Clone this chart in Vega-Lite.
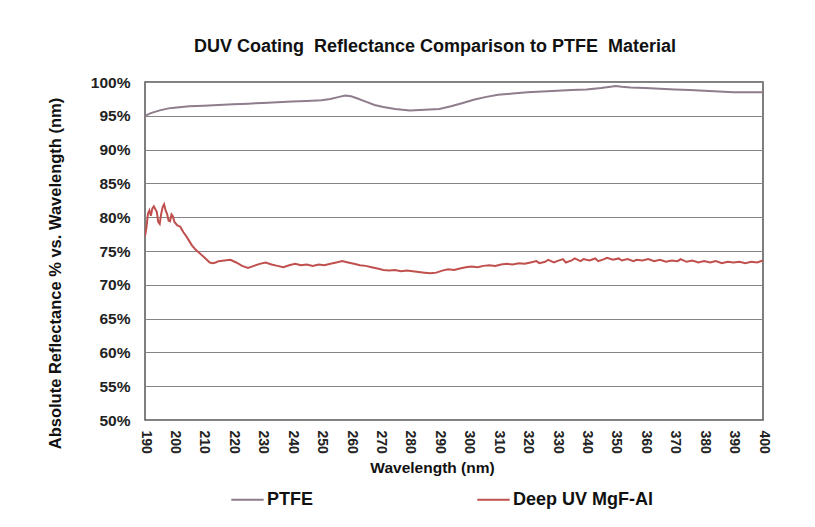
{
  "$schema": "https://vega.github.io/schema/vega-lite/v6.json",
  "width": 618,
  "height": 338,
  "autosize": {"type": "none"},
  "padding": {"left": 145, "top": 82, "right": 52, "bottom": 107},
  "background": "white",
  "title": {
    "text": "DUV Coating\u00a0 Reflectance Comparison to PTFE\u00a0 Material",
    "font": "Liberation Sans",
    "fontSize": 18,
    "fontWeight": "bold",
    "color": "#111111",
    "anchor": "middle",
    "dx": -19,
    "offset": 19
  },
  "data": {
    "values": [
      {"wl": 190, "s": "PTFE", "r": 95.0},
      {"wl": 192, "s": "PTFE", "r": 95.4},
      {"wl": 195, "s": "PTFE", "r": 95.8},
      {"wl": 198, "s": "PTFE", "r": 96.1},
      {"wl": 200, "s": "PTFE", "r": 96.2},
      {"wl": 205, "s": "PTFE", "r": 96.4},
      {"wl": 210, "s": "PTFE", "r": 96.5},
      {"wl": 215, "s": "PTFE", "r": 96.6},
      {"wl": 220, "s": "PTFE", "r": 96.7},
      {"wl": 225, "s": "PTFE", "r": 96.8},
      {"wl": 230, "s": "PTFE", "r": 96.9},
      {"wl": 235, "s": "PTFE", "r": 97.0},
      {"wl": 240, "s": "PTFE", "r": 97.1},
      {"wl": 245, "s": "PTFE", "r": 97.2},
      {"wl": 250, "s": "PTFE", "r": 97.3},
      {"wl": 253, "s": "PTFE", "r": 97.5},
      {"wl": 256, "s": "PTFE", "r": 97.8},
      {"wl": 258, "s": "PTFE", "r": 98.0},
      {"wl": 260, "s": "PTFE", "r": 97.9},
      {"wl": 262, "s": "PTFE", "r": 97.6},
      {"wl": 265, "s": "PTFE", "r": 97.1},
      {"wl": 268, "s": "PTFE", "r": 96.6},
      {"wl": 271, "s": "PTFE", "r": 96.3},
      {"wl": 275, "s": "PTFE", "r": 96.0},
      {"wl": 280, "s": "PTFE", "r": 95.8},
      {"wl": 285, "s": "PTFE", "r": 95.9},
      {"wl": 290, "s": "PTFE", "r": 96.0},
      {"wl": 294, "s": "PTFE", "r": 96.4},
      {"wl": 298, "s": "PTFE", "r": 96.9},
      {"wl": 302, "s": "PTFE", "r": 97.4},
      {"wl": 306, "s": "PTFE", "r": 97.8},
      {"wl": 310, "s": "PTFE", "r": 98.1},
      {"wl": 315, "s": "PTFE", "r": 98.3},
      {"wl": 320, "s": "PTFE", "r": 98.5},
      {"wl": 325, "s": "PTFE", "r": 98.6},
      {"wl": 330, "s": "PTFE", "r": 98.7},
      {"wl": 335, "s": "PTFE", "r": 98.8},
      {"wl": 340, "s": "PTFE", "r": 98.9},
      {"wl": 345, "s": "PTFE", "r": 99.1},
      {"wl": 350, "s": "PTFE", "r": 99.4},
      {"wl": 352, "s": "PTFE", "r": 99.3},
      {"wl": 355, "s": "PTFE", "r": 99.2},
      {"wl": 360, "s": "PTFE", "r": 99.1},
      {"wl": 365, "s": "PTFE", "r": 99.0},
      {"wl": 370, "s": "PTFE", "r": 98.9},
      {"wl": 375, "s": "PTFE", "r": 98.8},
      {"wl": 380, "s": "PTFE", "r": 98.7},
      {"wl": 385, "s": "PTFE", "r": 98.6},
      {"wl": 390, "s": "PTFE", "r": 98.5},
      {"wl": 395, "s": "PTFE", "r": 98.5},
      {"wl": 400, "s": "PTFE", "r": 98.5},
      {"wl": 190, "s": "Deep UV MgF-Al", "r": 77.2},
      {"wl": 190.5, "s": "Deep UV MgF-Al", "r": 78.5},
      {"wl": 191, "s": "Deep UV MgF-Al", "r": 80.5},
      {"wl": 191.5, "s": "Deep UV MgF-Al", "r": 81.0},
      {"wl": 192, "s": "Deep UV MgF-Al", "r": 80.2},
      {"wl": 192.5, "s": "Deep UV MgF-Al", "r": 81.3},
      {"wl": 193, "s": "Deep UV MgF-Al", "r": 81.6},
      {"wl": 194, "s": "Deep UV MgF-Al", "r": 80.8},
      {"wl": 194.5, "s": "Deep UV MgF-Al", "r": 79.3},
      {"wl": 195, "s": "Deep UV MgF-Al", "r": 79.0},
      {"wl": 195.5, "s": "Deep UV MgF-Al", "r": 80.5},
      {"wl": 196, "s": "Deep UV MgF-Al", "r": 81.5},
      {"wl": 196.5, "s": "Deep UV MgF-Al", "r": 81.9},
      {"wl": 197, "s": "Deep UV MgF-Al", "r": 81.0},
      {"wl": 197.5, "s": "Deep UV MgF-Al", "r": 80.5},
      {"wl": 198, "s": "Deep UV MgF-Al", "r": 79.5},
      {"wl": 198.5, "s": "Deep UV MgF-Al", "r": 79.4},
      {"wl": 199, "s": "Deep UV MgF-Al", "r": 80.4},
      {"wl": 199.5, "s": "Deep UV MgF-Al", "r": 80.1},
      {"wl": 200, "s": "Deep UV MgF-Al", "r": 79.3},
      {"wl": 201, "s": "Deep UV MgF-Al", "r": 78.8},
      {"wl": 202, "s": "Deep UV MgF-Al", "r": 78.6},
      {"wl": 203, "s": "Deep UV MgF-Al", "r": 77.8},
      {"wl": 204, "s": "Deep UV MgF-Al", "r": 77.2},
      {"wl": 205, "s": "Deep UV MgF-Al", "r": 76.5},
      {"wl": 206, "s": "Deep UV MgF-Al", "r": 75.8},
      {"wl": 207, "s": "Deep UV MgF-Al", "r": 75.3},
      {"wl": 208, "s": "Deep UV MgF-Al", "r": 74.9},
      {"wl": 209, "s": "Deep UV MgF-Al", "r": 74.5},
      {"wl": 210, "s": "Deep UV MgF-Al", "r": 74.1},
      {"wl": 211, "s": "Deep UV MgF-Al", "r": 73.7},
      {"wl": 212, "s": "Deep UV MgF-Al", "r": 73.3},
      {"wl": 213, "s": "Deep UV MgF-Al", "r": 73.2},
      {"wl": 214, "s": "Deep UV MgF-Al", "r": 73.3},
      {"wl": 215, "s": "Deep UV MgF-Al", "r": 73.5},
      {"wl": 217, "s": "Deep UV MgF-Al", "r": 73.6},
      {"wl": 219, "s": "Deep UV MgF-Al", "r": 73.7},
      {"wl": 221, "s": "Deep UV MgF-Al", "r": 73.3},
      {"wl": 223, "s": "Deep UV MgF-Al", "r": 72.8},
      {"wl": 225, "s": "Deep UV MgF-Al", "r": 72.5},
      {"wl": 227, "s": "Deep UV MgF-Al", "r": 72.8},
      {"wl": 229, "s": "Deep UV MgF-Al", "r": 73.1},
      {"wl": 231, "s": "Deep UV MgF-Al", "r": 73.3},
      {"wl": 233, "s": "Deep UV MgF-Al", "r": 73.0},
      {"wl": 235, "s": "Deep UV MgF-Al", "r": 72.8},
      {"wl": 237, "s": "Deep UV MgF-Al", "r": 72.6},
      {"wl": 239, "s": "Deep UV MgF-Al", "r": 72.9},
      {"wl": 241, "s": "Deep UV MgF-Al", "r": 73.1},
      {"wl": 243, "s": "Deep UV MgF-Al", "r": 72.9},
      {"wl": 245, "s": "Deep UV MgF-Al", "r": 73.0},
      {"wl": 247, "s": "Deep UV MgF-Al", "r": 72.8},
      {"wl": 249, "s": "Deep UV MgF-Al", "r": 73.0},
      {"wl": 251, "s": "Deep UV MgF-Al", "r": 72.9},
      {"wl": 253, "s": "Deep UV MgF-Al", "r": 73.1},
      {"wl": 255, "s": "Deep UV MgF-Al", "r": 73.3},
      {"wl": 257, "s": "Deep UV MgF-Al", "r": 73.5},
      {"wl": 259, "s": "Deep UV MgF-Al", "r": 73.3},
      {"wl": 261, "s": "Deep UV MgF-Al", "r": 73.1},
      {"wl": 263, "s": "Deep UV MgF-Al", "r": 72.9},
      {"wl": 265, "s": "Deep UV MgF-Al", "r": 72.8},
      {"wl": 267, "s": "Deep UV MgF-Al", "r": 72.6},
      {"wl": 269, "s": "Deep UV MgF-Al", "r": 72.4},
      {"wl": 271, "s": "Deep UV MgF-Al", "r": 72.2},
      {"wl": 273, "s": "Deep UV MgF-Al", "r": 72.1},
      {"wl": 275, "s": "Deep UV MgF-Al", "r": 72.2},
      {"wl": 277, "s": "Deep UV MgF-Al", "r": 72.0},
      {"wl": 279, "s": "Deep UV MgF-Al", "r": 72.1},
      {"wl": 281, "s": "Deep UV MgF-Al", "r": 72.0},
      {"wl": 283, "s": "Deep UV MgF-Al", "r": 71.9},
      {"wl": 285, "s": "Deep UV MgF-Al", "r": 71.8},
      {"wl": 287, "s": "Deep UV MgF-Al", "r": 71.7},
      {"wl": 289, "s": "Deep UV MgF-Al", "r": 71.8},
      {"wl": 291, "s": "Deep UV MgF-Al", "r": 72.1},
      {"wl": 293, "s": "Deep UV MgF-Al", "r": 72.3},
      {"wl": 295, "s": "Deep UV MgF-Al", "r": 72.2},
      {"wl": 297, "s": "Deep UV MgF-Al", "r": 72.4},
      {"wl": 299, "s": "Deep UV MgF-Al", "r": 72.6},
      {"wl": 301, "s": "Deep UV MgF-Al", "r": 72.7},
      {"wl": 303, "s": "Deep UV MgF-Al", "r": 72.6},
      {"wl": 305, "s": "Deep UV MgF-Al", "r": 72.8},
      {"wl": 307, "s": "Deep UV MgF-Al", "r": 72.9},
      {"wl": 309, "s": "Deep UV MgF-Al", "r": 72.8},
      {"wl": 311, "s": "Deep UV MgF-Al", "r": 73.0},
      {"wl": 313, "s": "Deep UV MgF-Al", "r": 73.1},
      {"wl": 315, "s": "Deep UV MgF-Al", "r": 73.0},
      {"wl": 317, "s": "Deep UV MgF-Al", "r": 73.2},
      {"wl": 319, "s": "Deep UV MgF-Al", "r": 73.1},
      {"wl": 321, "s": "Deep UV MgF-Al", "r": 73.3},
      {"wl": 323, "s": "Deep UV MgF-Al", "r": 73.5},
      {"wl": 324, "s": "Deep UV MgF-Al", "r": 73.2},
      {"wl": 326, "s": "Deep UV MgF-Al", "r": 73.4},
      {"wl": 327, "s": "Deep UV MgF-Al", "r": 73.7},
      {"wl": 329, "s": "Deep UV MgF-Al", "r": 73.3},
      {"wl": 330, "s": "Deep UV MgF-Al", "r": 73.5},
      {"wl": 332, "s": "Deep UV MgF-Al", "r": 73.8},
      {"wl": 333, "s": "Deep UV MgF-Al", "r": 73.3},
      {"wl": 335, "s": "Deep UV MgF-Al", "r": 73.6},
      {"wl": 336, "s": "Deep UV MgF-Al", "r": 73.9},
      {"wl": 338, "s": "Deep UV MgF-Al", "r": 73.5},
      {"wl": 339, "s": "Deep UV MgF-Al", "r": 73.8},
      {"wl": 341, "s": "Deep UV MgF-Al", "r": 73.6},
      {"wl": 343, "s": "Deep UV MgF-Al", "r": 73.9},
      {"wl": 344, "s": "Deep UV MgF-Al", "r": 73.5},
      {"wl": 346, "s": "Deep UV MgF-Al", "r": 73.8},
      {"wl": 347, "s": "Deep UV MgF-Al", "r": 74.0},
      {"wl": 349, "s": "Deep UV MgF-Al", "r": 73.7},
      {"wl": 351, "s": "Deep UV MgF-Al", "r": 73.9},
      {"wl": 352, "s": "Deep UV MgF-Al", "r": 73.6},
      {"wl": 354, "s": "Deep UV MgF-Al", "r": 73.8},
      {"wl": 356, "s": "Deep UV MgF-Al", "r": 73.5},
      {"wl": 357, "s": "Deep UV MgF-Al", "r": 73.7},
      {"wl": 359, "s": "Deep UV MgF-Al", "r": 73.6},
      {"wl": 361, "s": "Deep UV MgF-Al", "r": 73.8},
      {"wl": 363, "s": "Deep UV MgF-Al", "r": 73.5},
      {"wl": 365, "s": "Deep UV MgF-Al", "r": 73.7},
      {"wl": 367, "s": "Deep UV MgF-Al", "r": 73.4},
      {"wl": 369, "s": "Deep UV MgF-Al", "r": 73.6},
      {"wl": 371, "s": "Deep UV MgF-Al", "r": 73.5},
      {"wl": 372, "s": "Deep UV MgF-Al", "r": 73.8},
      {"wl": 374, "s": "Deep UV MgF-Al", "r": 73.4},
      {"wl": 376, "s": "Deep UV MgF-Al", "r": 73.6},
      {"wl": 378, "s": "Deep UV MgF-Al", "r": 73.3},
      {"wl": 380, "s": "Deep UV MgF-Al", "r": 73.5},
      {"wl": 382, "s": "Deep UV MgF-Al", "r": 73.3},
      {"wl": 384, "s": "Deep UV MgF-Al", "r": 73.5},
      {"wl": 386, "s": "Deep UV MgF-Al", "r": 73.2},
      {"wl": 388, "s": "Deep UV MgF-Al", "r": 73.4},
      {"wl": 390, "s": "Deep UV MgF-Al", "r": 73.3},
      {"wl": 392, "s": "Deep UV MgF-Al", "r": 73.4},
      {"wl": 394, "s": "Deep UV MgF-Al", "r": 73.2},
      {"wl": 396, "s": "Deep UV MgF-Al", "r": 73.4},
      {"wl": 398, "s": "Deep UV MgF-Al", "r": 73.3},
      {"wl": 400, "s": "Deep UV MgF-Al", "r": 73.6}
    ]
  },
  "mark": {"type": "line", "strokeWidth": 2, "clip": true},
  "encoding": {
    "x": {
      "field": "wl",
      "type": "quantitative",
      "scale": {"domain": [190, 400], "nice": false, "zero": false},
      "axis": {
        "title": "Wavelength (nm)",
        "values": [190, 200, 210, 220, 230, 240, 250, 260, 270, 280, 290, 300, 310, 320, 330, 340, 350, 360, 370, 380, 390, 400],
        "labelAngle": 90,
        "labelAlign": "left",
        "labelBaseline": "middle",
        "labelFont": "Liberation Sans",
        "labelFontSize": 14,
        "labelFontWeight": "bold",
        "labelColor": "#222222",
        "labelPadding": 10,
        "labelOverlap": false,
        "labelFlush": false,
        "ticks": false,
        "domain": false,
        "grid": false,
        "titleFont": "Liberation Sans",
        "titleFontSize": 15.5,
        "titleFontWeight": "bold",
        "titleColor": "#111111",
        "titlePadding": 7,
        "titleX": 287
      }
    },
    "y": {
      "field": "r",
      "type": "quantitative",
      "scale": {"domain": [50, 100], "nice": false, "zero": false},
      "axis": {
        "title": "Absolute Reflectance % vs. Wavelength (nm)",
        "values": [50, 55, 60, 65, 70, 75, 80, 85, 90, 95, 100],
        "labelExpr": "datum.value + '%'",
        "labelFont": "Liberation Sans",
        "labelFontSize": 15.5,
        "labelFontWeight": "bold",
        "labelColor": "#222222",
        "labelPadding": 15,
        "ticks": false,
        "domain": false,
        "grid": true,
        "gridColor": "#858585",
        "gridWidth": 1.2,
        "titleFont": "Liberation Sans",
        "titleFontSize": 16.5,
        "titleFontWeight": "bold",
        "titleColor": "#111111",
        "titleBaseline": "middle",
        "titleX": -90,
        "titleY": 191
      }
    },
    "color": {
      "field": "s",
      "type": "nominal",
      "sort": ["PTFE", "Deep UV MgF-Al"],
      "scale": {"domain": ["PTFE", "Deep UV MgF-Al"], "range": ["#8e7d8c", "#c0504d"]},
      "legend": {
        "title": null,
        "orient": "none",
        "direction": "horizontal",
        "legendX": 85,
        "legendY": 400,
        "symbolType": "stroke",
        "symbolSize": 1050,
        "symbolStrokeWidth": 2,
        "labelFont": "Liberation Sans",
        "labelFontSize": 18,
        "labelFontWeight": "bold",
        "labelColor": "#111111",
        "labelOffset": 2,
        "columnPadding": 159
      }
    }
  },
  "config": {
    "view": {"stroke": "#555555", "strokeWidth": 1.5}
  }
}
